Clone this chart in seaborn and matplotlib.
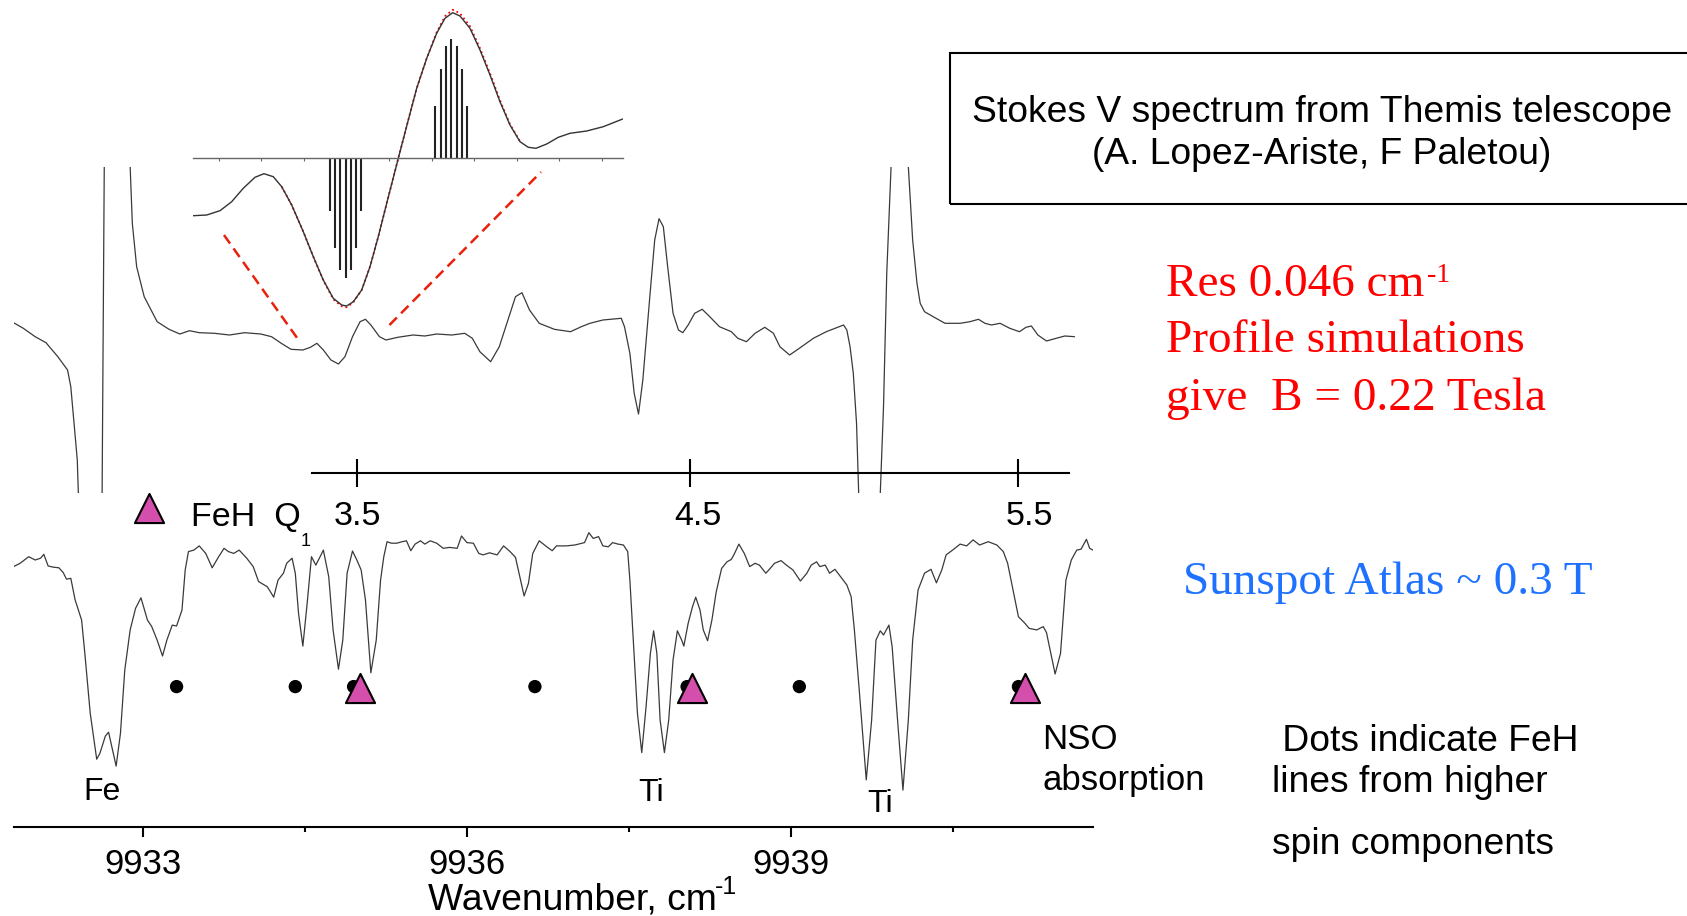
import numpy as np
import pandas as pd
import matplotlib
matplotlib.use("Agg")
import matplotlib.pyplot as plt
import seaborn as sns
from matplotlib.patches import Rectangle

# ---------------------------------------------------------------- data
# Sunspot atlas (lower trace): wavenumber [cm-1] and relative intensity
atlas_wn = [
    9931.80, 9931.86, 9931.94, 9932.00, 9932.05, 9932.08, 9932.12, 9932.17, 9932.22, 9932.26,
    9932.29, 9932.33, 9932.37, 9932.43, 9932.46, 9932.51, 9932.57, 9932.60, 9932.65, 9932.68,
    9932.71, 9932.75, 9932.79, 9932.83, 9932.88, 9932.93, 9932.98, 9933.04, 9933.08, 9933.13,
    9933.18, 9933.22, 9933.27, 9933.31, 9933.36, 9933.39, 9933.42, 9933.47, 9933.52, 9933.58,
    9933.64, 9933.70, 9933.75, 9933.79, 9933.84, 9933.89, 9933.96, 9934.02, 9934.07, 9934.15,
    9934.18, 9934.21, 9934.25, 9934.30, 9934.33, 9934.38, 9934.41, 9934.44, 9934.48, 9934.52,
    9934.56, 9934.60, 9934.64, 9934.67, 9934.72, 9934.76, 9934.81, 9934.85, 9934.89, 9934.94,
    9934.98, 9935.02, 9935.06, 9935.11, 9935.16, 9935.20, 9935.23, 9935.26, 9935.30, 9935.35,
    9935.40, 9935.44, 9935.48, 9935.52, 9935.57, 9935.61, 9935.66, 9935.72, 9935.78, 9935.84,
    9935.91, 9935.95, 9936.00, 9936.06, 9936.11, 9936.15, 9936.21, 9936.28, 9936.34, 9936.40,
    9936.45, 9936.49, 9936.53, 9936.57, 9936.61, 9936.67, 9936.74, 9936.79, 9936.83, 9936.92,
    9937.00, 9937.09, 9937.13, 9937.17, 9937.22, 9937.26, 9937.31, 9937.35, 9937.40, 9937.45,
    9937.49, 9937.51, 9937.54, 9937.58, 9937.62, 9937.66, 9937.70, 9937.73, 9937.76, 9937.79,
    9937.83, 9937.87, 9937.91, 9937.95, 9937.99, 9938.01, 9938.05, 9938.09, 9938.12, 9938.16,
    9938.19, 9938.23, 9938.27, 9938.31, 9938.36, 9938.41, 9938.45, 9938.48, 9938.52, 9938.57,
    9938.62, 9938.67, 9938.71, 9938.77, 9938.81, 9938.85, 9938.91, 9938.96, 9939.02, 9939.09,
    9939.15, 9939.19, 9939.24, 9939.27, 9939.32, 9939.36, 9939.41, 9939.45, 9939.52, 9939.56,
    9939.59, 9939.64, 9939.70, 9939.75, 9939.79, 9939.83, 9939.86, 9939.91, 9939.94, 9939.99,
    9940.04, 9940.09, 9940.13, 9940.18, 9940.24, 9940.30, 9940.35, 9940.40, 9940.44, 9940.50,
    9940.57, 9940.63, 9940.69, 9940.75, 9940.83, 9940.91, 9940.97, 9941.01, 9941.06, 9941.11,
    9941.17, 9941.21, 9941.28, 9941.34, 9941.37, 9941.41, 9941.45, 9941.50, 9941.55, 9941.60,
    9941.65, 9941.69, 9941.74, 9941.77, 9941.80]
atlas_int = [
    0.867, 0.878, 0.900, 0.889, 0.895, 0.908, 0.869, 0.865, 0.863, 0.847,
    0.825, 0.828, 0.756, 0.689, 0.578, 0.378, 0.225, 0.245, 0.302, 0.315,
    0.267, 0.202, 0.311, 0.522, 0.656, 0.728, 0.763, 0.689, 0.667, 0.622,
    0.569, 0.622, 0.672, 0.669, 0.722, 0.856, 0.917, 0.922, 0.936, 0.911,
    0.863, 0.900, 0.928, 0.917, 0.911, 0.922, 0.895, 0.867, 0.817, 0.800,
    0.783, 0.765, 0.822, 0.845, 0.878, 0.895, 0.845, 0.711, 0.602, 0.745,
    0.900, 0.872, 0.900, 0.922, 0.833, 0.656, 0.525, 0.622, 0.845, 0.919,
    0.889, 0.856, 0.756, 0.513, 0.622, 0.822, 0.900, 0.950, 0.945, 0.945,
    0.950, 0.953, 0.920, 0.942, 0.953, 0.942, 0.953, 0.945, 0.928, 0.931,
    0.928, 0.969, 0.947, 0.945, 0.911, 0.906, 0.913, 0.906, 0.936, 0.917,
    0.898, 0.833, 0.769, 0.811, 0.911, 0.953, 0.933, 0.920, 0.936, 0.936,
    0.939, 0.947, 0.980, 0.961, 0.967, 0.936, 0.933, 0.947, 0.942, 0.939,
    0.917, 0.822, 0.633, 0.378, 0.247, 0.400, 0.578, 0.653, 0.578, 0.356,
    0.247, 0.356, 0.556, 0.653, 0.622, 0.602, 0.678, 0.733, 0.765, 0.722,
    0.656, 0.620, 0.689, 0.783, 0.861, 0.883, 0.891, 0.911, 0.942, 0.911,
    0.867, 0.878, 0.872, 0.845, 0.861, 0.878, 0.887, 0.872, 0.856, 0.819,
    0.845, 0.872, 0.883, 0.867, 0.872, 0.845, 0.858, 0.839, 0.806, 0.767,
    0.656, 0.433, 0.156, 0.356, 0.622, 0.653, 0.639, 0.672, 0.600, 0.356,
    0.122, 0.356, 0.622, 0.789, 0.845, 0.858, 0.813, 0.856, 0.906, 0.922,
    0.942, 0.936, 0.956, 0.939, 0.950, 0.939, 0.917, 0.878, 0.789, 0.700,
    0.678, 0.661, 0.656, 0.667, 0.647, 0.578, 0.509, 0.578, 0.822, 0.889,
    0.922, 0.925, 0.958, 0.928, 0.922]

# Themis Stokes V (upper trace): wavenumber [cm-1] and signal (arb. units)
stokes_wn = [
    9931.80, 9931.89, 9932.00, 9932.10, 9932.21, 9932.30, 9932.33, 9932.36, 9932.39, 9932.40,
    9932.51, 9932.62, 9932.64, 9932.76, 9932.88, 9932.90, 9932.94, 9933.01, 9933.13, 9933.24,
    9933.34, 9933.43, 9933.52, 9933.66, 9933.80, 9933.94, 9934.09, 9934.19, 9934.28, 9934.37,
    9934.48, 9934.55, 9934.61, 9934.67, 9934.74, 9934.81, 9934.87, 9934.94, 9935.01, 9935.06,
    9935.11, 9935.19, 9935.25, 9935.36, 9935.50, 9935.61, 9935.72, 9935.86, 9935.98, 9936.05,
    9936.12, 9936.22, 9936.30, 9936.39, 9936.45, 9936.51, 9936.58, 9936.67, 9936.81, 9936.96,
    9937.06, 9937.14, 9937.26, 9937.43, 9937.46, 9937.51, 9937.55, 9937.59, 9937.63, 9937.70,
    9937.74, 9937.78, 9937.82, 9937.86, 9937.91, 9937.96, 9938.00, 9938.05, 9938.11, 9938.18,
    9938.25, 9938.34, 9938.45, 9938.51, 9938.59, 9938.67, 9938.76, 9938.84, 9938.90, 9938.99,
    9939.08, 9939.21, 9939.33, 9939.49, 9939.52, 9939.55, 9939.58, 9939.61, 9939.63, 9939.73,
    9939.83, 9939.86, 9939.89, 9939.93, 9940.01, 9940.09, 9940.13, 9940.17, 9940.20, 9940.24,
    9940.32, 9940.43, 9940.57, 9940.66, 9940.74, 9940.80, 9940.86, 9940.94, 9941.03, 9941.12,
    9941.18, 9941.23, 9941.29, 9941.37, 9941.46, 9941.54, 9941.63]
stokes_v = [
    0.073, 0.017, -0.067, -0.127, -0.267, -0.400, -0.567, -0.933, -1.300, -1.633,
    -3.5, -1.633, 1.633, 3.5, 1.633, 1.067, 0.633, 0.333, 0.083, 0.007,
    -0.040, -0.007, -0.027, -0.033, -0.050, -0.027, -0.040, -0.067, -0.133, -0.193,
    -0.200, -0.173, -0.133, -0.200, -0.300, -0.340, -0.267, -0.067, 0.083, 0.107,
    0.050, -0.067, -0.100, -0.073, -0.050, -0.060, -0.040, -0.050, -0.033, -0.083,
    -0.217, -0.317, -0.167, 0.133, 0.333, 0.373, 0.200, 0.067, 0.007, -0.017,
    0.033, 0.067, 0.100, 0.117, 0.033, -0.233, -0.633, -0.840, -0.500, 0.400,
    0.900, 1.113, 1.033, 0.633, 0.167, 0.000, -0.027, 0.050, 0.167, 0.207,
    0.133, 0.033, -0.017, -0.083, -0.117, -0.033, 0.027, -0.033, -0.167, -0.250,
    -0.183, -0.083, -0.017, 0.050, 0.000, -0.167, -0.433, -0.933, -1.633, -3.5,
    -1.633, -0.767, 0.567, 1.633, 3.5, 1.633, 0.900, 0.467, 0.267, 0.183,
    0.133, 0.067, 0.067, 0.083, 0.107, 0.067, 0.050, 0.067, 0.017, -0.017,
    0.027, 0.040, -0.050, -0.110, -0.083, -0.060, -0.067]

# Inset: zoom on the Q1(3.5) Stokes V profile (offset units, arb. signal)
inset_x = [-0.596, -0.282, 0.031, 0.305, 0.577, 0.852, 1.063, 1.282, 1.479, 1.714,
           1.986, 2.221, 2.455, 2.690, 2.887, 3.005, 3.160, 3.357, 3.552, 3.746,
           3.944, 4.216, 4.451, 4.648, 4.883, 5.117, 5.312, 5.493, 5.664, 5.899,
           6.134, 6.369, 6.603, 6.838, 7.073, 7.268, 7.448, 7.700, 7.972, 8.246,
           8.638, 9.028, 9.484]
inset_obs = [-0.574, -0.567, -0.524, -0.434, -0.300, -0.190, -0.154, -0.184, -0.284, -0.467,
             -0.734, -0.984, -1.217, -1.400, -1.467, -1.477, -1.434, -1.317, -1.084, -0.784,
             -0.450, 0.000, 0.383, 0.700, 1.000, 1.250, 1.400, 1.456, 1.423, 1.300,
             1.083, 0.833, 0.566, 0.333, 0.166, 0.110, 0.100, 0.143, 0.210, 0.250,
             0.273, 0.316, 0.393]
inset_sim_x = [1.479, 1.714, 1.986, 2.221, 2.455, 2.690, 2.887, 3.005, 3.160, 3.357,
               3.552, 3.746, 3.944, 4.216, 4.451, 4.648, 4.883, 5.117, 5.312, 5.493,
               5.664, 5.899, 6.134, 6.369, 6.603, 6.838, 7.073]
inset_sim = [-0.284, -0.467, -0.734, -0.984, -1.22, -1.41, -1.48, -1.49, -1.44, -1.317,
             -1.084, -0.784, -0.45, 0.0, 0.383, 0.70, 1.0, 1.26, 1.42, 1.485,
             1.45, 1.32, 1.10, 0.85, 0.58, 0.34, 0.17]
stick_neg_x = [2.613, 2.730, 2.857, 2.981, 3.106, 3.223, 3.347]
stick_neg_h = [-0.524, -0.900, -1.117, -1.200, -1.117, -0.900, -0.524]
stick_pos_x = [5.085, 5.211, 5.336, 5.460, 5.587, 5.709, 5.833]
stick_pos_h = [0.523, 0.893, 1.123, 1.190, 1.123, 0.893, 0.523]
inset_ticks = [0, 1, 2, 3, 4, 5, 6, 7, 8, 9]
zoom_line_x = [[0.124, 1.908], [4.009, 7.566]]
zoom_line_y = [[-0.767, -1.837], [-1.667, -0.137]]

# Wavenumber axis
wn_major = [9933, 9936, 9939]
wn_minor = [9934.5, 9937.5, 9940.5]
wn_range = (9931.8, 9941.8)

# FeH Q1 branch (J labels) and markers
q1_labels = ["3.5", "4.5", "5.5"]
q1_tick_wn = [9934.983, 9938.066, 9941.106]
q1_label_wn = [9934.990, 9938.143, 9941.214]
q1_axis_span = (9934.566, 9941.578)
feh_q1_wn = [9935.01, 9938.09, 9941.17]
feh_higher_wn = [9933.31, 9934.41, 9934.95, 9936.63, 9938.04, 9939.08, 9941.11]
marker_level = 0.467

# ---------------------------------------------------------------- style
sns.set_theme(style="white")
plt.rcParams.update({
    "font.family": ["Liberation Sans", "DejaVu Sans"],
    "mathtext.fontset": "custom",
    "mathtext.rm": "Liberation Sans",
    "mathtext.it": "Liberation Sans:italic",
    "mathtext.bf": "Liberation Sans:bold",
    "text.color": "black",
    "axes.labelcolor": "black",
    "xtick.color": "black",
    "axes.edgecolor": "black",
})
SERIF = ["Liberation Serif", "DejaVu Serif"]
LINE = "#3a3a3a"
MAGENTA = "#d44fab"

W, H = 1687, 916
fig = plt.figure(figsize=(W / 100, H / 100), dpi=100)


def place(x0, y0, x1, y1):
    return [x0 / W, 1 - y1 / H, (x1 - x0) / W, (y1 - y0) / H]


ax_low = fig.add_axes(place(13.6, 526.7, 1092.9, 826.7))
ax_up = fig.add_axes(place(13.6, 166.7, 1092.9, 493.3))
ax_q1 = fig.add_axes(place(13.6, 463.3, 1092.9, 473.3))
ax_in = fig.add_axes(place(193.3, 5, 622.7, 345))
for a in (ax_low, ax_up, ax_q1, ax_in):
    a.patch.set_visible(False)
    for s in ("top", "right", "left"):
        a.spines[s].set_visible(False)
    a.set_yticks([])
    a.set_ylabel("")

# ---------------------------------------------------------------- lower: sunspot atlas
atlas = pd.DataFrame({"wn": atlas_wn, "intensity": atlas_int})
sns.lineplot(data=atlas, x="wn", y="intensity", ax=ax_low, color=LINE, lw=0.9,
             sort=False, estimator=None)
ax_low.set_xlim(*wn_range)
ax_low.set_ylim(0, 1)
ax_low.set_ylabel("")
ax_low.spines["bottom"].set_linewidth(1.5)
ax_low.set_xticks(wn_major)
ax_low.set_xticklabels([str(v) for v in wn_major])
ax_low.set_xticks(wn_minor, minor=True)
ax_low.tick_params(axis="x", which="major", bottom=True, direction="out", length=7.5,
                   width=1.5, labelsize=25, pad=8.0)
ax_low.tick_params(axis="x", which="minor", bottom=True, direction="out", length=3.8,
                   width=1.5)

dots = pd.DataFrame({"wn": feh_higher_wn, "level": [marker_level] * len(feh_higher_wn)})
sns.scatterplot(data=dots, x="wn", y="level", ax=ax_low, color="black", s=92,
                edgecolor="none", zorder=3, legend=False)
tri = pd.DataFrame({"wn": feh_q1_wn, "level": [marker_level - 0.004] * len(feh_q1_wn)})
sns.scatterplot(data=tri, x="wn", y="level", ax=ax_low, marker="^", color=MAGENTA,
                s=440, edgecolor="black", linewidth=1.5, zorder=4, legend=False)
ax_low.set_ylabel("")

ax_low.set_xlabel("Wavenumber, cm", fontsize=26.8)
ax_low.xaxis.label.set_ha("left")
ax_low.xaxis.label.set_va("baseline")
ax_low.xaxis.set_label_coords((428 - 13.6) / 1079.3, (826.7 - 910) / 300)
ax_low.annotate("-1", xy=(1, 1), xycoords=ax_low.xaxis.label, xytext=(-1.5, 6),
                textcoords="offset points", ha="left", va="top", fontsize=18)

# legend-like key
ax_low.scatter([9933.05], [1.064], marker="^", s=440, color=MAGENTA,
               edgecolor="black", linewidth=1.5, clip_on=False, zorder=4)
t_feh = ax_low.text(9933.44, 1.002, "FeH  Q", ha="left", va="baseline", fontsize=24.5)
ax_low.annotate("1", xy=(1, 0), xycoords=t_feh, xytext=(0.5, -9),
                textcoords="offset points", ha="left", va="baseline", fontsize=13)

# line identifications
ax_low.text(9932.62, 0.089, "Fe", ha="center", va="baseline", fontsize=23)
ax_low.text(9937.71, 0.086, "Ti", ha="center", va="baseline", fontsize=23)
ax_low.text(9939.83, 0.050, "Ti", ha="center", va="baseline", fontsize=23)
ax_low.text(9941.33, 0.259, "NSO", ha="left", va="baseline", fontsize=25)
ax_low.text(9941.33, 0.121, "absorption", ha="left", va="baseline", fontsize=25)

# ---------------------------------------------------------------- upper: Stokes V
stokes = pd.DataFrame({"wn": stokes_wn, "V": stokes_v})
sns.lineplot(data=stokes, x="wn", y="V", ax=ax_up, color=LINE, lw=0.9,
             sort=False, estimator=None)
ax_up.set_xlim(*wn_range)
ax_up.set_ylim(-1.633, 1.633)
ax_up.spines["bottom"].set_visible(False)
ax_up.set_xticks([])
ax_up.set_xlabel("")
ax_up.set_ylabel("")

# ---------------------------------------------------------------- Q1 scale
ax_q1.set_xlim(*wn_range)
ax_q1.set_ylim(0, 1)
ax_q1.spines["bottom"].set_bounds(*q1_axis_span)
ax_q1.spines["bottom"].set_linewidth(1.5)
ax_q1.set_xticks(q1_tick_wn)
ax_q1.set_xticklabels([""] * len(q1_tick_wn))
ax_q1.set_xticks(q1_label_wn, minor=True)
ax_q1.set_xticklabels(q1_labels, minor=True)
ax_q1.tick_params(axis="x", which="major", bottom=True, direction="inout", length=20,
                  width=1.5)
ax_q1.tick_params(axis="x", which="minor", bottom=True, direction="inout", length=0,
                  labelsize=24.5, pad=20.0)

# ---------------------------------------------------------------- inset
sns.lineplot(x=inset_sim_x, y=inset_sim, ax=ax_in, color="red", lw=1.3,
             linestyle=":", sort=False, estimator=None, zorder=1)
sns.lineplot(x=inset_x, y=inset_obs, ax=ax_in, color="#333333", lw=1.0,
             sort=False, estimator=None, zorder=2)
ax_in.vlines(stick_neg_x, 0, stick_neg_h, color="#222222", lw=1.5)
ax_in.vlines(stick_pos_x, 0, stick_pos_h, color="#222222", lw=1.5)
for xs, ys in zip(zoom_line_x, zoom_line_y):
    ax_in.plot(xs, ys, color="#e8200c", lw=1.8, linestyle=(0, (4.2, 2.4)), clip_on=False)
ax_in.set_xlim(-0.596, 9.484)
ax_in.set_ylim(-1.867, 1.533)
ax_in.spines["bottom"].set_position(("data", 0))
ax_in.spines["bottom"].set_color("#666666")
ax_in.spines["bottom"].set_linewidth(1.0)
ax_in.set_xticks(inset_ticks)
ax_in.tick_params(axis="x", bottom=True, direction="out", length=2.5, width=0.8,
                  color="#666666", labelbottom=False)
ax_in.set_xlabel("")
ax_in.set_ylabel("")

# ---------------------------------------------------------------- annotations (right)
fig.add_artist(Rectangle((949.5 / W, 1 - 204 / H), (1700 - 949.5) / W, (204 - 52.5) / H,
                         transform=fig.transFigure, fill=False, edgecolor="black",
                         lw=1.5, clip_on=False))
fig.text(1322 / W, 1 - 121.8 / H, "Stokes V spectrum from Themis telescope",
         ha="center", va="baseline", fontsize=26.8)
fig.text(1322 / W, 1 - 164 / H, "(A. Lopez-Ariste, F Paletou)",
         ha="center", va="baseline", fontsize=26.8)

t_res = fig.text(1166.3 / W, 1 - 296 / H, "Res 0.046 cm", ha="left", va="baseline",
                 fontsize=34, color="red", family=SERIF)
ax_low.annotate("-1", xy=(1, 1), xycoords=t_res, xytext=(1.5, 0),
                textcoords="offset points", ha="left", va="top", fontsize=20,
                color="red", family=SERIF)
fig.text(1166.3 / W, 1 - 352 / H, "Profile simulations", ha="left", va="baseline",
         fontsize=34, color="red", family=SERIF)
fig.text(1166.3 / W, 1 - 410 / H, "give  B = 0.22 Tesla", ha="left", va="baseline",
         fontsize=34, color="red", family=SERIF)
fig.text(1183 / W, 1 - 594.5 / H, "Sunspot Atlas ~ 0.3 T", ha="left", va="baseline",
         fontsize=34, color="#1f72ff", family=SERIF)

fig.text(1272.2 / W, 1 - 750.7 / H, " Dots indicate FeH", ha="left", va="baseline",
         fontsize=26.8)
fig.text(1272.2 / W, 1 - 791.7 / H, "lines from higher", ha="left", va="baseline",
         fontsize=26.8)
fig.text(1272.2 / W, 1 - 854 / H, "spin components", ha="left", va="baseline",
         fontsize=26.8)

fig.savefig("out.png", dpi=100)
